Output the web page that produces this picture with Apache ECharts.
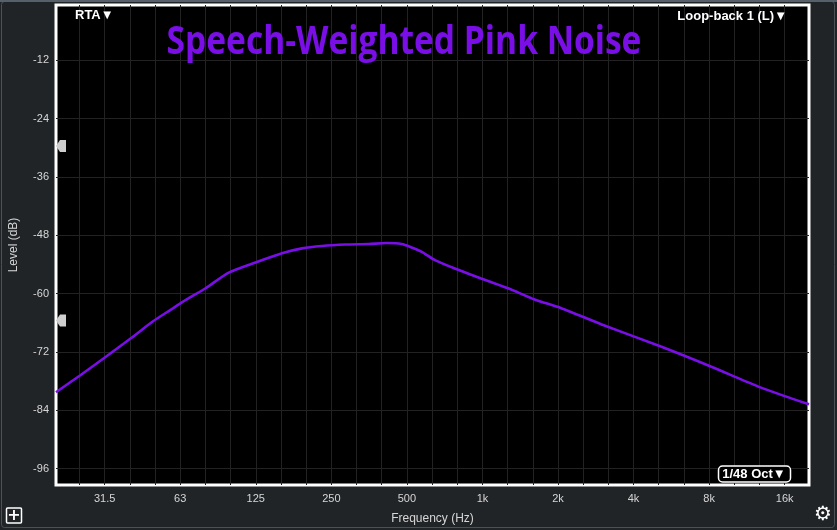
<!DOCTYPE html>
<html>
<head>
<meta charset="utf-8">
<script src="https://cdn.jsdelivr.net/npm/echarts@6/dist/echarts.min.js"></script>
<style>
  html, body { margin: 0; padding: 0; background: #212427; }
  #chart { width: 837px; height: 530px; }
</style>
</head>
<body>
<div id="chart"></div>
<script>
// RTA trace (Hz / dB)
const freqs = [20, 25, 31.6, 40, 48.4, 57, 65.8, 78.9, 97.6, 124.7, 159, 191, 229, 284, 351, 415, 477, 522, 573, 647, 800, 1006, 1265, 1613, 2060, 2969, 5138, 8120, 12800, 20000]
const levels = [-80.3, -76.8, -73.0, -69.1, -65.8, -63.4, -61.3, -58.9, -55.7, -53.6, -51.7, -50.7, -50.2, -49.9, -49.8, -49.6, -49.8, -50.5, -51.4, -53.1, -55.1, -57.05, -58.9, -61.2, -63.0, -66.3, -70.9, -75.0, -79.3, -82.8]

// axis ticks
const octaveLabels = ['31.5', '63', '125', '250', '500', '1k', '2k', '4k', '8k', '16k']
const octavePos = [-5, -4, -3, -2, -1, 0, 1, 2, 3, 4] // octaves re 1 kHz
const levelTicks = [-96, -84, -72, -60, -48, -36, -24, -12]

const oct = f => Math.log2(f / 1000)
const thirds = []
for (let k = -16; k <= 12; k++) thirds.push(k / 3)

const chart = echarts.init(document.getElementById('chart'))
const labelColor = '#d6d6d6'
const gridColor = '#222'
const purple = '#7a0ee6'

chart.setOption({
  backgroundColor: '#212427',
  animation: false,
  grid: {
    left: 54,
    top: 5,
    width: 755,
    height: 480,
    show: true,
    backgroundColor: '#000',
    borderColor: '#fff',
    borderWidth: 3
  },
  xAxis: {
    type: 'value',
    min: oct(20),
    max: oct(20000),
    name: 'Frequency (Hz)',
    nameLocation: 'middle',
    nameGap: 28,
    nameTextStyle: { color: labelColor, fontSize: 12, fontFamily: 'Liberation Sans' },
    axisLine: { show: false },
    axisTick: { show: false, customValues: thirds },
    axisLabel: {
      customValues: octavePos,
      color: labelColor,
      fontSize: 11,
      fontFamily: 'Liberation Sans',
      margin: 8,
      formatter: v => octaveLabels[octavePos.indexOf(Math.round(v))]
    },
    splitLine: { show: true, lineStyle: { color: gridColor, width: 1 } }
  },
  yAxis: {
    type: 'value',
    min: -99.4,
    max: -0.6,
    name: 'Level (dB)',
    nameLocation: 'middle',
    nameGap: 36,
    nameTextStyle: { color: labelColor, fontSize: 12, fontFamily: 'Liberation Sans' },
    axisLine: { show: false },
    axisTick: { show: false, customValues: levelTicks },
    axisLabel: {
      customValues: levelTicks,
      color: labelColor,
      fontSize: 11,
      fontFamily: 'Liberation Sans',
      margin: 7
    },
    splitLine: { show: true, lineStyle: { color: gridColor, width: 1 } }
  },
  series: [{
    type: 'line',
    name: 'Loop-back 1 (L)',
    data: freqs.map((f, i) => [oct(f), levels[i]]),
    showSymbol: false,
    smooth: 0.25,
    lineStyle: { color: purple, width: 2.6 },
    z: 3
  }],
  graphic: [
    // outer frame
    {
      type: 'rect', silent: true, z: -1,
      shape: { x: 1.5, y: 1.5, width: 833, height: 526, r: 3 },
      style: { fill: null, stroke: '#4a5158', lineWidth: 1 }
    },
    {
      type: 'rect', silent: true, z: -1,
      shape: { x: 0, y: 0, width: 837, height: 2 },
      style: { fill: '#55606a' }
    },
    {
      type: 'text', z: 10,
      x: 404, y: 43, scaleX: 0.86,
      style: {
        text: 'Speech-Weighted Pink Noise',
        x: 0, y: 0,
        textAlign: 'center', textVerticalAlign: 'middle',
        font: 'bold 39px "Open Sans"',
        fill: purple
      }
    },
    {
      type: 'text', z: 10,
      style: {
        text: 'RTA\u25BC', x: 75, y: 15,
        textVerticalAlign: 'middle',
        font: 'bold 13px "Liberation Sans"', fill: '#fff'
      }
    },
    {
      type: 'text', z: 10,
      style: {
        text: 'Loop-back 1 (L)\u25BC', x: 787, y: 16,
        textAlign: 'right', textVerticalAlign: 'middle',
        font: 'bold 13px "Liberation Sans"', fill: '#fff'
      }
    },
    // smoothing box
    {
      type: 'rect', z: 10,
      shape: { x: 718.5, y: 466, width: 72, height: 16, r: 4 },
      style: { fill: '#000', stroke: '#fff', lineWidth: 1.5 }
    },
    {
      type: 'text', z: 11,
      style: {
        text: '1/48 Oct\u25BC', x: 754, y: 474.5,
        textAlign: 'center', textVerticalAlign: 'middle',
        font: 'bold 13px "Liberation Sans"', fill: '#fff'
      }
    },
    // level handles
    {
      type: 'polygon', z: 10,
      shape: { points: [[56, 146], [60, 140], [66, 140], [66, 152], [60, 152]] },
      style: { fill: '#cfcfcf' }
    },
    {
      type: 'polygon', z: 10,
      shape: { points: [[56, 320.5], [60, 314.5], [66, 314.5], [66, 326.5], [60, 326.5]] },
      style: { fill: '#cfcfcf' }
    },
    // plus button
    {
      type: 'rect', z: 10,
      shape: { x: 6.5, y: 508, width: 15, height: 15, r: 1 },
      style: { fill: null, stroke: '#fff', lineWidth: 1.5 }
    },
    {
      type: 'text', z: 10,
      style: {
        text: '+', x: 14, y: 515.5,
        textAlign: 'center', textVerticalAlign: 'middle',
        font: 'bold 16px "DejaVu Sans"', fill: '#fff'
      }
    },
    // settings gear
    {
      type: 'text', z: 10,
      style: {
        text: '\u2699', x: 823, y: 515,
        textAlign: 'center', textVerticalAlign: 'middle',
        font: '20px "DejaVu Sans"', fill: '#fff'
      }
    }
  ]
})
</script>
</body>
</html>
